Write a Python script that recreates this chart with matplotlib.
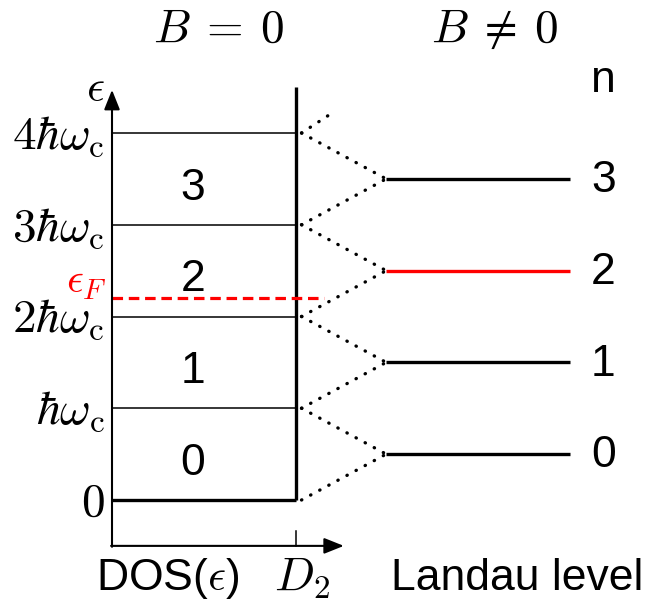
import matplotlib
matplotlib.use("Agg")
import matplotlib.pyplot as plt

plt.rcParams['font.family'] = ['Liberation Sans', 'DejaVu Sans']
plt.rcParams['mathtext.fontset'] = 'cm'

# --- data ---
edges = [0, 1, 2, 3, 4]                # band edges in units of hbar*omega_c
edge_labels = [r'$0$', r'$\hbar\omega_{\rm c}$', r'$2\hbar\omega_{\rm c}$',
               r'$3\hbar\omega_{\rm c}$', r'$4\hbar\omega_{\rm c}$']
levels = [0, 1, 2, 3]                  # Landau level index n
level_energy = [0.5, 1.5, 2.5, 3.5]
level_colors = ['black', 'black', 'red', 'black']
fermi = 2.2
D2 = 1.0
ll_x = [1.49, 2.49]                    # Landau level line extent

MS = 34   # math font size
SS = 32   # sans font size

fig = plt.figure(figsize=(6.48, 6.03), dpi=100)
ax = fig.add_axes([0, 0, 1, 1])
ax.set_xlim(-0.6087, 2.913)
ax.set_ylim(-1.1226, 5.4496)
ax.axis('off')

# axes with arrows
ax.annotate('', xy=(0, 4.47), xytext=(0, -0.51),
            arrowprops=dict(arrowstyle='-|>,head_length=0.5,head_width=0.2', lw=1.5, color='k',
                            mutation_scale=24, shrinkA=0, shrinkB=0))
ax.annotate('', xy=(1.26, -0.5), xytext=(-0.005, -0.5),
            arrowprops=dict(arrowstyle='-|>,head_length=0.5,head_width=0.2', lw=1.5, color='k',
                            mutation_scale=24, shrinkA=0, shrinkB=0))
ax.plot([D2, D2], [-0.5, -0.34], color='k', lw=1.1)

# DOS steps
for e in edges[1:]:
    ax.plot([0, D2], [e, e], color='k', lw=1.1)
ax.plot([0, D2], [0, 0], color='k', lw=2.4, solid_capstyle='butt')
ax.plot([D2, D2], [0, 4.5], color='k', lw=2.4, solid_capstyle='butt')

# Fermi level
ax.plot([0, 1.15], [fermi, fermi], color='red', lw=2.3, linestyle=(0, (3.3, 1.8)))
ax.text(-0.03, fermi + 0.18, r'$\epsilon_F$', color='red', fontsize=MS - 4, ha='right', va='center')

# edge labels
for e, lab in zip(edges, edge_labels):
    ax.text(-0.04, e - 0.04, lab, fontsize=MS, ha='right', va='center')
ax.text(-0.04, 4.47, r'$\epsilon$', fontsize=MS - 2, ha='right', va='center')

# level numbers in DOS boxes
for n in levels:
    ax.text(0.44, n + 0.4, str(n), fontsize=SS, ha='center', va='center')

# dotted connections
dot = dict(color='k', lw=2.4, linestyle=(0, (0.1, 3.0)), dash_capstyle='round')
for n, e in zip(levels, level_energy):
    ax.plot([D2 + 0.03, ll_x[0]], [n, e], **dot)
    ax.plot([D2 + 0.03, ll_x[0]], [n + 1, e], **dot)
ax.plot([D2 + 0.03, 1.19], [4, 4.21], **dot)

# Landau levels
for n, e, c in zip(levels, level_energy, level_colors):
    ax.plot(ll_x, [e, e], color=c, lw=2.4, solid_capstyle='butt')
    ax.text(2.67, e - 0.02, str(n), fontsize=SS, ha='center', va='center')
ax.text(2.67, 4.57, 'n', fontsize=SS, ha='center', va='center')

# titles
ax.text(0.58, 5.12, r'$B\:=\:0$', fontsize=MS, ha='center', va='center')
ax.text(2.08, 5.12, r'$B\:\neq\:0$', fontsize=MS, ha='center', va='center')

# bottom labels
ax.text(0.30, -0.86, r'DOS($\epsilon$)', fontsize=SS, ha='center', va='center')
ax.text(D2 + 0.03, -0.86, r'$D_2$', fontsize=MS, ha='center', va='center')
ax.text(2.2, -0.86, 'Landau level', fontsize=SS, ha='center', va='center')

fig.savefig('out.png', dpi=100)
